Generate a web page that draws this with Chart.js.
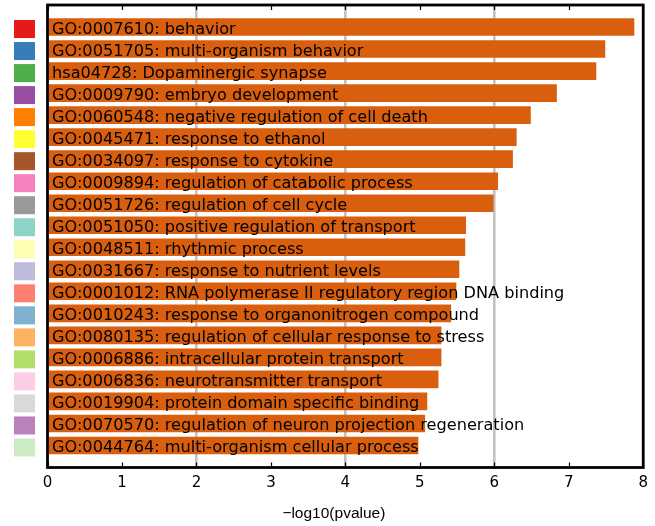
<!DOCTYPE html>
<html>
<head>
<meta charset="utf-8">
<script src="https://cdn.jsdelivr.net/npm/chart.js@4"></script>
<style>
  html, body { margin: 0; padding: 0; background: #fff; }
  #wrap { width: 655px; height: 526px; }
</style>
</head>
<body>
<div id="wrap"><canvas id="c" width="655" height="526"></canvas></div>
<script>
// Enriched terms, top to bottom
const terms = [
  "GO:0007610: behavior",
  "GO:0051705: multi-organism behavior",
  "hsa04728: Dopaminergic synapse",
  "GO:0009790: embryo development",
  "GO:0060548: negative regulation of cell death",
  "GO:0045471: response to ethanol",
  "GO:0034097: response to cytokine",
  "GO:0009894: regulation of catabolic process",
  "GO:0051726: regulation of cell cycle",
  "GO:0051050: positive regulation of transport",
  "GO:0048511: rhythmic process",
  "GO:0031667: response to nutrient levels",
  "GO:0001012: RNA polymerase II regulatory region DNA binding",
  "GO:0010243: response to organonitrogen compound",
  "GO:0080135: regulation of cellular response to stress",
  "GO:0006886: intracellular protein transport",
  "GO:0006836: neurotransmitter transport",
  "GO:0019904: protein domain specific binding",
  "GO:0070570: regulation of neuron projection regeneration",
  "GO:0044764: multi-organism cellular process"
];

// -log10(pvalue) for each term
const negLogP = [
  7.88, 7.49, 7.37, 6.84, 6.49, 6.30, 6.25, 6.05, 5.99, 5.62,
  5.61, 5.53, 5.49, 5.42, 5.29, 5.29, 5.25, 5.10, 5.07, 4.98
];

// Cluster swatch colours shown beside each row
const swatchColors = [
  "#e41a1c", "#377eb8", "#4daf4a", "#984ea3", "#ff7f00",
  "#ffff33", "#a65628", "#f781bf", "#999999", "#8dd3c7",
  "#ffffb3", "#bebada", "#fb8072", "#80b1d3", "#fdb462",
  "#b3de69", "#fccde5", "#d9d9d9", "#bc80bd", "#ccebc5"
];

const xTickValues = [0, 1, 2, 3, 4, 5, 6, 7, 8];
const gridValues = [2, 4, 6];
const axisTitle = "\u2212log10(pvalue)";

const rowLabelsAndFrame = {
  id: "rowLabelsAndFrame",
  afterDatasetsDraw(chart) {
    const ctx = chart.ctx;
    const xs = chart.scales.x, ys = chart.scales.y;
    const area = chart.chartArea;
    ctx.save();
    // term labels inside the bars
    ctx.font = "16.15px 'DejaVu Sans'";
    ctx.fillStyle = "#000";
    ctx.textAlign = "left";
    ctx.textBaseline = "alphabetic";
    terms.forEach((t, i) => {
      ctx.fillText(t, xs.getPixelForValue(0) + 4.5, ys.getPixelForValue(i) + 6.5);
    });
    // colour swatches left of the axes
    swatchColors.forEach((c, i) => {
      const y = ys.getPixelForValue(i);
      ctx.fillStyle = c;
      ctx.fillRect(14, y - 7, 21, 18);
    });
    // inward tick marks on top and bottom
    ctx.strokeStyle = "#000";
    ctx.lineWidth = 1.2;
    xTickValues.forEach(v => {
      const x = Math.round(xs.getPixelForValue(v)) + 0.5;
      ctx.beginPath();
      ctx.moveTo(x, area.top); ctx.lineTo(x, area.top + 5);
      ctx.moveTo(x, area.bottom); ctx.lineTo(x, area.bottom - 5);
      ctx.stroke();
    });
    // axes frame
    ctx.lineWidth = 2.8;
    ctx.strokeRect(area.left, area.top, area.right - area.left, area.bottom - area.top);
    // x-axis title
    ctx.font = "15.5px 'Liberation Sans'";
    ctx.fillStyle = "#000";
    ctx.textAlign = "center";
    ctx.textBaseline = "middle";
    ctx.fillText(axisTitle, (area.left + area.right) / 2 - 11.5, 514);
    ctx.restore();
  }
};

new Chart(document.getElementById("c"), {
  type: "bar",
  data: {
    datasets: [{
      data: negLogP.map((v, i) => ({ x: v, y: i })),
      backgroundColor: "#d95f0e",
      borderWidth: 0,
      barPercentage: 0.8,
      categoryPercentage: 1.0
    }]
  },
  options: {
    indexAxis: "y",
    responsive: false,
    animation: false,
    devicePixelRatio: 1,
    layout: { padding: { left: 47.5, right: 9, top: 5, bottom: 0 } },
    plugins: { legend: { display: false }, tooltip: { enabled: false } },
    scales: {
      x: {
        type: "linear",
        position: "bottom",
        min: 0,
        max: 8,
        afterFit(s) { s.height = 58.5; },
        afterBuildTicks(s) { s.ticks = xTickValues.map(v => ({ value: v })); },
        border: { display: false },
        grid: {
          drawTicks: false,
          lineWidth: 2.6,
          color: c => (c.tick && gridValues.includes(c.tick.value)) ? "#c2c2c2" : "rgba(0,0,0,0)"
        },
        ticks: {
          padding: 7,
          color: "#000",
          maxRotation: 0,
          font: { family: "DejaVu Sans", size: 15 }
        }
      },
      y: {
        type: "linear",
        min: -1,
        max: 20,
        reverse: true,
        offset: false,
        display: false
      }
    }
  },
  plugins: [rowLabelsAndFrame]
});
</script>
</body>
</html>
